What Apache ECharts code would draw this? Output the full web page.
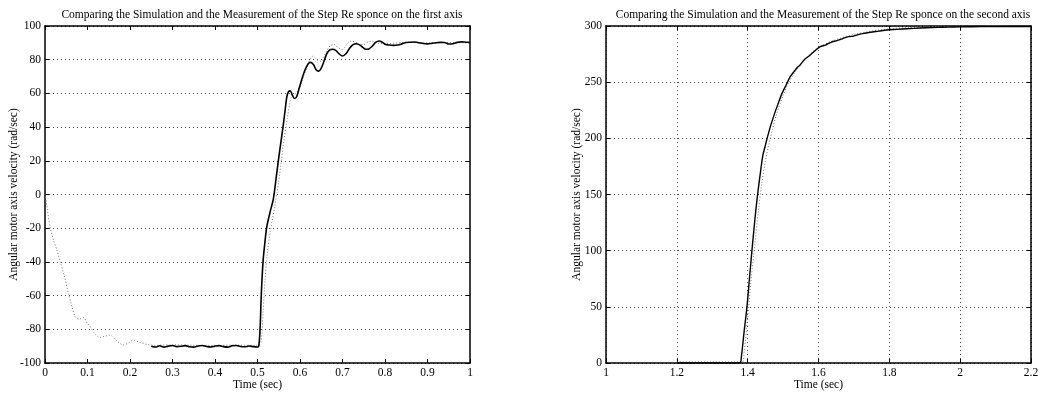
<!DOCTYPE html>
<html>
<head>
<meta charset="utf-8">
<script src="https://cdn.jsdelivr.net/npm/echarts@6/dist/echarts.min.js"></script>
<style>html,body{margin:0;padding:0;background:#fff}#c{width:1040px;height:395px}</style>
</head>
<body>
<div id="c"></div>
<script>
const titleLeft = "Comparing the Simulation and the Measurement of the Step Re sponce on the first axis";
const titleRight = "Comparing the Simulation and the Measurement of the Step Re sponce on the second axis";
const xName = "Time (sec)";
const yName = "Angular motor axis velocity (rad/sec)";

const leftX = {min: 0, max: 1, interval: 0.1};
const leftY = {min: -100, max: 100, interval: 20};
const rightX = {min: 1, max: 2.2, interval: 0.2};
const rightY = {min: 0, max: 300, interval: 50};

// first axis: measured (solid)
const leftMeas = [
[0.25,-90],[0.26,-90.5],[0.27,-89.8],[0.28,-90.6],[0.29,-90.0],[0.30,-89.6],[0.31,-90.3],[0.32,-90.1],
[0.33,-89.7],[0.34,-90.4],[0.35,-90.6],[0.36,-89.9],[0.37,-89.6],[0.38,-90.2],[0.39,-90.5],[0.40,-90.0],
[0.41,-89.7],[0.42,-90.3],[0.43,-90.6],[0.44,-89.8],[0.45,-89.6],[0.46,-90.2],[0.47,-90.4],[0.48,-89.9],
[0.49,-90.3],[0.50,-90.5],[0.503,-90],[0.506,-80],[0.509,-59],[0.513,-40],[0.518,-27],[0.522,-19],
[0.53,-10],[0.537,-3],[0.543,8],[0.549,20],[0.555,31],[0.56,40],[0.565,50],[0.569,58],[0.573,61],
[0.577,61.5],[0.582,59],[0.587,57],[0.592,58],[0.598,63],[0.605,69],[0.612,74],[0.619,77.5],[0.625,78.4],
[0.632,77],[0.638,74],[0.644,73.2],[0.65,75],[0.657,79.5],[0.664,84],[0.67,85.8],[0.677,86.2],[0.684,85.5],
[0.692,83.5],[0.7,82.2],[0.708,83.5],[0.716,86.5],[0.724,88.8],[0.732,89.5],[0.74,88.8],[0.748,87.3],
[0.755,86.2],[0.762,86.4],[0.77,88],[0.778,90.3],[0.786,91.1],[0.794,90.3],[0.80,89.2],[0.81,88.7],
[0.82,88.5],[0.83,88.7],[0.84,89.4],[0.85,90.2],[0.86,90.4],[0.87,90.5],[0.88,90.1],[0.89,89.6],[0.90,89.4],
[0.91,89.7],[0.92,90.1],[0.93,90.3],[0.94,90.2],[0.95,89.3],[0.96,89.5],[0.97,90.3],[0.98,90.6],[0.99,90.4],[1.0,90.2]
];
// first axis: simulated (dotted)
const leftSim = [
[0,0],[0.005,-8],[0.0125,-20],[0.02,-27],[0.028,-33],[0.036,-40],[0.045,-48],[0.056,-59.6],[0.064,-67],
[0.071,-72.5],[0.08,-74],[0.091,-73],[0.098,-76],[0.106,-78.4],[0.115,-82],[0.13,-84.8],[0.142,-84],
[0.153,-83.4],[0.165,-86],[0.185,-89.3],[0.197,-88],[0.208,-86.4],[0.22,-87.5],[0.24,-89],[0.26,-89.5],
[0.3,-89.2],[0.35,-89.5],[0.4,-89.6],[0.45,-89.4],[0.5,-89.5],[0.508,-88],[0.513,-70],[0.518,-50],
[0.523,-35],[0.53,-22],[0.54,-8],[0.55,8],[0.56,28],[0.57,45],[0.58,58],[0.59,60],[0.60,64],[0.61,71],
[0.62,78],[0.63,82],[0.64,80],[0.65,79],[0.66,84],[0.67,88],[0.68,89],[0.69,87],[0.70,86],[0.71,89],
[0.72,91],[0.73,90.5],[0.74,89],[0.75,89],[0.76,90.5],[0.77,91],[0.78,90],[0.8,89.5],[0.85,90.3],
[0.9,90],[0.95,90.2],[1.0,90]
];
// second axis: measured (solid)
const rightMeas = [
[1.2,0],[1.3,0],[1.378,0],[1.382,5],[1.39,28],[1.398,50],[1.405,75],[1.412,100],[1.418,120],[1.424,139],
[1.43,155],[1.437,172],[1.443,185],[1.449,192.5],[1.46,206],[1.473,219.3],[1.485,230],[1.497,240],
[1.511,249],[1.52,255],[1.53,259],[1.54,263],[1.548,265.3],[1.56,270],[1.576,274],[1.59,278],[1.605,281.6],
[1.62,283],[1.635,285.5],[1.652,287],[1.67,289],[1.685,290.5],[1.699,291],[1.715,292.5],[1.73,293.5],
[1.746,294.4],[1.77,295.4],[1.793,296.4],[1.82,297],[1.85,297.6],[1.887,298.2],[1.92,298.6],[1.95,298.9],
[1.981,299.1],[2.02,299.3],[2.06,299.5],[2.1,299.4],[2.15,299.6],[2.2,299.5]
];
// second axis: simulated (dotted)
const rightSim = [
[1.2,1],[1.3,1],[1.385,1],[1.39,10],[1.40,40],[1.41,75],[1.42,105],[1.43,135],[1.44,160],[1.45,180],
[1.46,195],[1.47,208],[1.48,220],[1.5,238],[1.52,252],[1.54,262],[1.56,270],[1.58,276],[1.6,281],
[1.65,288],[1.7,292.5],[1.75,295.5],[1.8,297.5],[1.85,298.5],[1.9,299.2],[2.0,299.7],[2.1,299.9],[2.2,300]
];

const FONT = "Liberation Serif";
const axisLine = {show: true, onZero: false, lineStyle: {color: '#000', width: 1.5}};
const tick = {show: true, inside: true, length: 4, lineStyle: {color: '#000', width: 1}};
const grid = {show: true, lineStyle: {color: '#444', type: [1, 3], width: 1}};
const lbl = {color: '#000', fontFamily: FONT, fontSize: 11.5};

function xAx(gi, r, pos, main, split) {
  return Object.assign({type: 'value', gridIndex: gi, position: pos}, r, {
    axisLine, axisTick: tick,
    splitLine: split && main ? grid : {show: false},
    axisLabel: main ? Object.assign({margin: 4}, lbl) : {show: false},
    name: main ? xName : '', nameLocation: 'middle', nameGap: 16, nameMoveOverlap: false,
    nameTextStyle: {color: '#000', fontFamily: FONT, fontSize: 11.5}
  });
}
function yAx(gi, r, pos, main, gap) {
  return Object.assign({type: 'value', gridIndex: gi, position: pos}, r, {
    axisLine, axisTick: tick,
    splitLine: main ? grid : {show: false},
    axisLabel: main ? Object.assign({margin: 4}, lbl) : {show: false},
    name: main ? yName : '', nameLocation: 'middle', nameGap: gap || 26, nameMoveOverlap: false,
    nameTextStyle: {color: '#000', fontFamily: FONT, fontSize: 11.5}
  });
}

const chart = echarts.init(document.getElementById('c'), null, {renderer: 'canvas'});
chart.setOption({
  backgroundColor: '#fff',
  animation: false,
  title: [
    {text: titleLeft, left: 257, top: 4, textAlign: 'center',
     textStyle: {fontFamily: FONT, fontSize: 11.5, fontWeight: 'normal', color: '#000'}},
    {text: titleRight, left: 818, top: 4, textAlign: 'center',
     textStyle: {fontFamily: FONT, fontSize: 11.5, fontWeight: 'normal', color: '#000'}}
  ],
  grid: [
    {left: 45, right: 570, top: 26, bottom: 32, containLabel: false, outerBoundsMode: 'none'},
    {left: 606, right: 9, top: 26, bottom: 32, containLabel: false, outerBoundsMode: 'none'}
  ],
  xAxis: [
    xAx(0, leftX, 'bottom', true, false),
    xAx(0, leftX, 'top', false, false),
    xAx(1, rightX, 'bottom', true, true),
    xAx(1, rightX, 'top', false, false)
  ],
  yAxis: [
    yAx(0, leftY, 'left', true, 25),
    yAx(0, leftY, 'right', false),
    yAx(1, rightY, 'left', true, 23),
    yAx(1, rightY, 'right', false)
  ],
  series: [
    {type: 'line', xAxisIndex: 0, yAxisIndex: 0, data: leftSim, showSymbol: false, smooth: 0.3,
     lineStyle: {color: '#777', width: 1, type: [1, 2]}},
    {type: 'line', xAxisIndex: 0, yAxisIndex: 0, data: leftMeas, showSymbol: false, smooth: 0.3,
     lineStyle: {color: '#000', width: 1.6}},
    {type: 'line', xAxisIndex: 2, yAxisIndex: 2, data: rightSim, showSymbol: false, smooth: 0.3,
     lineStyle: {color: '#777', width: 1, type: [1, 2]}},
    {type: 'line', xAxisIndex: 2, yAxisIndex: 2, data: rightMeas, showSymbol: false, smooth: 0.3,
     lineStyle: {color: '#000', width: 1.4}}
  ]
});
</script>
</body>
</html>
